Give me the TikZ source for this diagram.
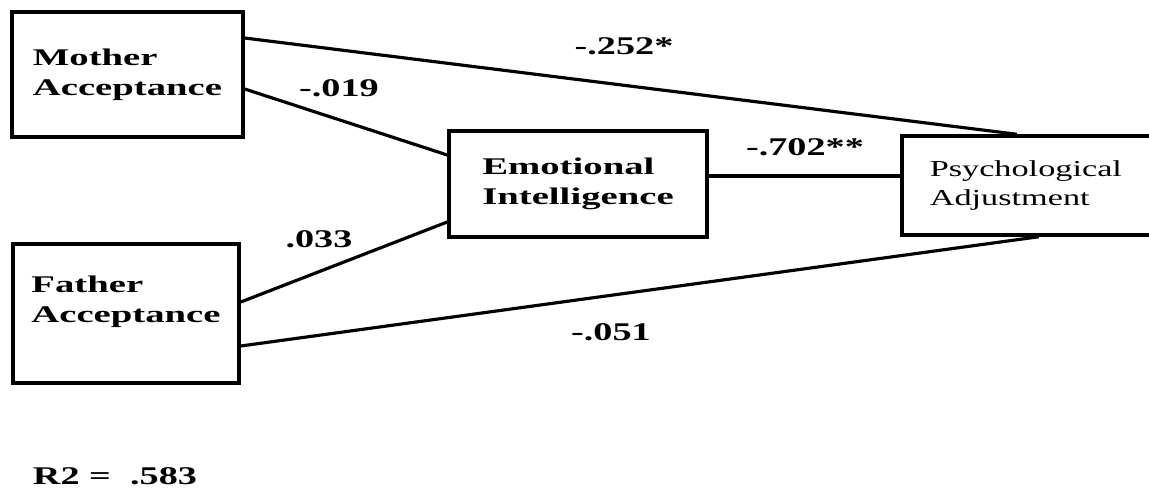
\documentclass[tikz,border=0pt]{standalone}
\usepackage{fontspec}
\setmainfont{Liberation Serif}[FakeStretch=1.5]
\newfontfamily\boxfont{Liberation Serif}[FakeStretch=1.62]
\usetikzlibrary{positioning}

\tikzset{
  varbox/.style={draw, line width=2pt, align=left, inner sep=0pt,
    font=\boxfont\bfseries\fontsize{13.6}{16.8}\selectfont},
  coef/.style={font=\bfseries\fontsize{14.5}{17}\selectfont},
  link/.style={line width=1.8pt}
}

\begin{document}
\begin{tikzpicture}[x=0.02cm, y=-0.02cm]

    \useasboundingbox (0,0) rectangle (1149,491);
    \clip (0,0) rectangle (1149,491);

    % 定义节点
    \node[varbox, minimum width=4.62cm, minimum height=2.5cm] (mother) at (127.5,74.5) {Mother\\Acceptance};
    \node[varbox, minimum width=4.52cm, minimum height=2.78cm] (father) at (126,313.5) {Father\\Acceptance\rule[-0.58cm]{0pt}{0.58cm}};
    \node[varbox, minimum width=5.16cm, minimum height=2.12cm] (emo) at (578,184) {Emotional\\Intelligence};
    \node[varbox, anchor=west, minimum height=1.98cm, inner xsep=0.56cm, text width=4.6cm,
          font=\fontsize{13}{16}\selectfont] (psy) at (900,185.5) {Psychological\\Adjustment};

    % 连接节点
    \draw[link] ([yshift=0.73cm]mother.east) -- ([xshift=-0.56cm]psy.north);
    \draw[link] ([yshift=-0.29cm]mother.east) -- ([yshift=0.58cm]emo.west);
    \draw[link] ([yshift=0.23cm]father.east) -- ([yshift=-0.76cm]emo.west);
    \draw[link] ([yshift=-0.65cm]father.east) -- ([xshift=-0.12cm]psy.south);
    \draw[link] ([yshift=0.16cm]emo.east) -- ([yshift=0.16cm]emo.east -| psy.west);

    % 系数
    \node[coef] (cMP) at (624,46) {-.252*};
    \node[coef] (cME) at (339,88) {-.019};
    \node[coef] (cFE) at (319,239) {.033};
    \node[coef] (cEP) at (805,147) {-.702**};
    \node[coef] (cFP) at (611,332) {-.051};
    \node[coef] (rsq) at (115,476) {R2 = \ .583};

\end{tikzpicture}
\end{document}
